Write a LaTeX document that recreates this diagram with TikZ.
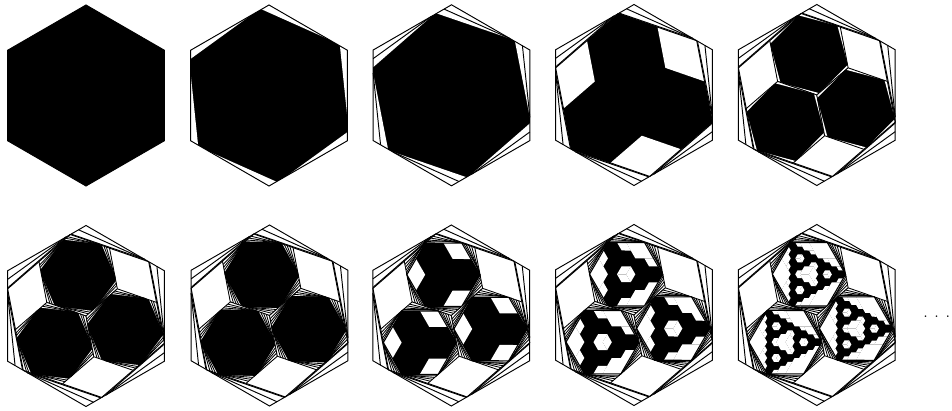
\documentclass[tikz,border=0pt]{standalone}
\newcommand\hexP{(90:1)--(30:1)--(-30:1)--(-90:1)--(-150:1)--(150:1)--cycle}
\newcommand\whiteTri[2]{\foreach\k in{0,...,5}{\fill[white,rotate=-60*\k] (0,1)--({-.866*(1-#1)},{.5+.5*#1})--({.866*#2},{1-.5*#2})--cycle;}}
\newcommand\fanLines[2]{\foreach\tv in{#1}{\foreach\k in{0,...,5}{\draw[rotate=-60*\k] ({-.866*(1-\tv)},{.5+.5*\tv})--({.866*#2},{1-.5*#2});}}}
\newcommand\rhA{\foreach\k in{0,120,240}{\fill[white,rotate=\k] (.433,.25)--(.433,.75)--(.866,.5)--(.866,0)--cycle;}}
\newcommand\rhB{\rhA\foreach\a in{90,210,330}{\begin{scope}[shift={(\a:.5)},scale=.5]\rhA\end{scope}}}
\newcommand\rhC{\rhA\foreach\a in{90,210,330}{\begin{scope}[shift={(\a:.5)},scale=.5]\rhB\end{scope}}}
\newcommand\innerChild[1]{\fill[white]\hexP;\fanLines{.92}{.74}\fanLines{.85}{.68}\fanLines{.78}{.62}\fanLines{.72}{.57}%
  \begin{scope}[rotate=18.9,scale=.8826]\fill[black]\hexP;#1\draw[line width=1.1pt]\hexP;\end{scope}\draw\hexP;}
\newcommand\childStage[1]{\ifcase#1\or
  \fill[black]\hexP;\whiteTri{.93}{.8}\draw\hexP;\or
  \fill[black]\hexP;\whiteTri{.81}{.66}\fanLines{.92}{.74}\fanLines{.86}{.7}\draw\hexP;\or
  \fill[black]\hexP;\whiteTri{.73}{.6}\fanLines{.92}{.74}\fanLines{.85}{.68}\fanLines{.78}{.63}\draw\hexP;\or
  \innerChild{\rhA}\or
  \innerChild{\rhB}\or
  \innerChild{\rhC}\fi}
\newcommand\outerFrame{\fill[white]\hexP;\fanLines{.905,.81}{.745}}
\newcommand\panelC[3]{\begin{scope}[shift={(#1,#2)},scale=90.5,line width=.95pt]
  \outerFrame
  \begin{scope}[rotate=10.9,scale=.9165]\draw\hexP;
    \begin{scope}[line width=.85pt]\foreach\a in{90,210,330}{\begin{scope}[shift={(\a:.5)},scale=.5]\childStage{#3}\end{scope}}\end{scope}
  \end{scope}\draw\hexP;\end{scope}}
\begin{document}
\begin{tikzpicture}[x=1pt,y=1pt,line join=miter]
\useasboundingbox (0,0) rectangle (952,410);
% row one
\begin{scope}[shift={(86,314.5)},scale=90.5,line width=.95pt]
  \fill[black]\hexP;\draw\hexP;\end{scope}
\begin{scope}[shift={(269,314.5)},scale=90.5,line width=.95pt]
  \fill[black]\hexP;\whiteTri{.905}{.745}\draw\hexP;\end{scope}
\begin{scope}[shift={(451.5,314.7)},scale=90.5,line width=.95pt]
  \fill[black]\hexP;\whiteTri{.81}{.745}\fanLines{.905}{.745}\draw\hexP;\end{scope}
\begin{scope}[shift={(634,315)},scale=90.5,line width=.95pt]
  \outerFrame
  \begin{scope}[rotate=10.9,scale=.9165]\fill[black]\hexP;\rhA\draw\hexP;\end{scope}
  \draw\hexP;\end{scope}
\panelC{816.8}{315}{1}
% row two
\panelC{86}{94}{2}
\panelC{269.5}{94.5}{3}
\panelC{451.3}{94.5}{4}
\panelC{634}{95}{5}
\panelC{816.8}{95}{6}
\node[inner sep=0pt,font=\fontsize{20}{20}\selectfont] (dots) at (936.7,93.5) {.\hspace{6.1pt}.\hspace{6.1pt}.};
\end{tikzpicture}
\end{document}
